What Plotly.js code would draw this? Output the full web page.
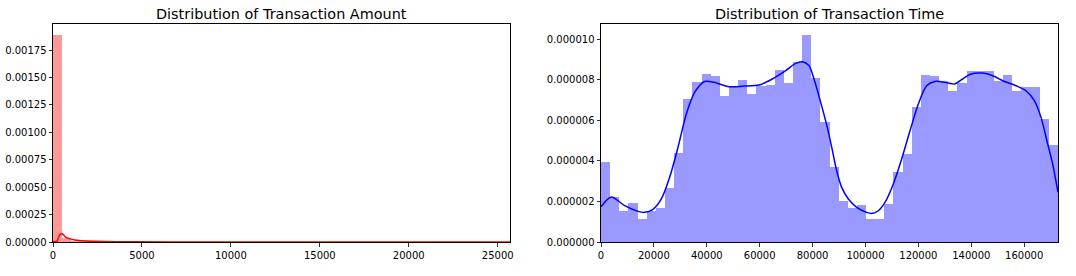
<!DOCTYPE html>
<html>
<head>
<meta charset="utf-8">
<script src="https://cdn.plot.ly/plotly-3.0.1.min.js"></script>
<style>html,body{margin:0;padding:0;background:#fff;}#chart{width:1076px;height:276px;}</style>
</head>
<body>
<div id="chart"></div>
<script>
// ---- data ----
const amountMax = 25691.16;
const timeMax = 172792;
const nBins = 50;

const amountDensity = [
  0.001887, 0.000040, 0.000012, 0.000005, 0.000003, 0.0000018, 0.0000012, 0.0000008, 0.0000005, 0.0000004,
  0.0000003, 0.0000002, 0.0000002, 0.0000001, 0.0000001, 0.0000001, 0, 0, 0, 0,
  0, 0, 0, 0, 0, 0, 0, 0, 0, 0,
  0, 0, 0, 0, 0, 0, 0, 0, 0, 0,
  0, 0, 0, 0, 0, 0, 0, 0, 0, 0.00000005
];
const amountKdeX = [0, 120, 220, 330, 420, 480, 560, 640, 750, 940, 1220, 1590, 2340, 3500, 5000, 8000, 12000, 18000, 25691];
const amountKdeY = [0.000004, 0.000004, 0.000006, 0.000050, 0.000072, 0.000078, 0.000070, 0.000056, 0.000039, 0.000030, 0.000018, 0.000012, 0.000006, 0.000003, 0.0000015, 0.0000006, 0.0000003, 0.0000001, 0.0000001];

const timeDensity = [
  3.96e-6, 2.23e-6, 1.53e-6, 1.92e-6, 1.15e-6, 1.53e-6, 1.69e-6, 2.68e-6, 4.40e-6, 7.04e-6,
  7.88e-6, 8.28e-6, 8.18e-6, 7.18e-6, 7.65e-6, 7.98e-6, 7.29e-6, 7.70e-6, 7.73e-6, 8.47e-6,
  7.83e-6, 8.85e-6, 10.2e-6, 8.10e-6, 5.91e-6, 3.71e-6, 2.04e-6, 1.69e-6, 1.81e-6, 1.15e-6,
  1.15e-6, 1.87e-6, 3.45e-6, 4.35e-6, 6.65e-6, 8.23e-6, 8.18e-6, 7.91e-6, 7.45e-6, 7.85e-6,
  8.42e-6, 8.42e-6, 8.42e-6, 7.95e-6, 8.23e-6, 7.45e-6, 7.64e-6, 7.64e-6, 6.06e-6, 4.78e-6
];
const timeKdeX = [0, 3900, 8950, 13990, 16510, 19660, 22810, 25960, 29110, 32260, 35400, 39190, 42730, 48400, 54070, 59740, 64780, 69830, 73610, 76130, 78650, 80540, 83060, 85570, 87340, 89110, 91000, 93520, 96670, 100450, 102340, 104860, 107380, 110530, 113680, 116830, 119980, 123130, 126280, 130700, 133590, 136740, 139890, 144310, 148100, 152510, 156920, 160700, 163850, 166370, 168890, 170780, 172792];
const timeKdeY = [1.74e-6, 2.22e-6, 1.79e-6, 1.51e-6, 1.46e-6, 1.61e-6, 2.12e-6, 3.19e-6, 4.66e-6, 6.31e-6, 7.37e-6, 7.91e-6, 7.87e-6, 7.65e-6, 7.68e-6, 7.73e-6, 8.03e-6, 8.44e-6, 8.80e-6, 8.88e-6, 8.69e-6, 8.03e-6, 6.88e-6, 5.65e-6, 4.60e-6, 3.51e-6, 2.69e-6, 2.12e-6, 1.71e-6, 1.46e-6, 1.41e-6, 1.54e-6, 1.95e-6, 2.86e-6, 4.09e-6, 5.48e-6, 6.80e-6, 7.70e-6, 7.91e-6, 7.85e-6, 7.78e-6, 8.03e-6, 8.28e-6, 8.32e-6, 8.19e-6, 7.91e-6, 7.70e-6, 7.45e-6, 6.96e-6, 6.14e-6, 4.83e-6, 3.84e-6, 2.45e-6];

const amountTicks = [0, 5000, 10000, 15000, 20000, 25000];
const timeTicks = [0, 20000, 40000, 60000, 80000, 100000, 120000, 140000, 160000];
const amountYTicks = [0, 0.00025, 0.0005, 0.00075, 0.001, 0.00125, 0.0015, 0.00175];
const timeYTicks = [0, 0.000002, 0.000004, 0.000006, 0.000008, 0.00001];

// ---- build ----
function centers(max, n) {
  const w = max / n; const c = [];
  for (let i = 0; i < n; i++) c.push((i + 0.5) * w);
  return c;
}
const aW = amountMax / nBins, tW = timeMax / nBins;

const traces = [
  {type: 'bar', x: centers(amountMax, nBins), y: amountDensity, width: aW,
   marker: {color: 'rgba(255,0,0,0.4)', line: {width: 0}}, xaxis: 'x', yaxis: 'y', hoverinfo: 'skip'},
  {type: 'scatter', mode: 'lines', x: amountKdeX, y: amountKdeY, line: {color: '#ff0000', width: 1.5, shape: 'spline', smoothing: 0.6},
   xaxis: 'x', yaxis: 'y', hoverinfo: 'skip'},
  {type: 'bar', x: centers(timeMax, nBins), y: timeDensity, width: tW,
   marker: {color: 'rgba(0,0,255,0.4)', line: {width: 0}}, xaxis: 'x2', yaxis: 'y2', hoverinfo: 'skip'},
  {type: 'scatter', mode: 'lines', x: timeKdeX, y: timeKdeY, line: {color: '#0000ff', width: 1.5, shape: 'spline', smoothing: 0.8},
   xaxis: 'x2', yaxis: 'y2', hoverinfo: 'skip'}
];

const font = {family: 'DejaVu Sans, sans-serif', size: 10, color: '#000'};
const axBase = {showgrid: false, zeroline: false, showline: true, mirror: true, linecolor: '#000', linewidth: 1,
  ticks: 'outside', ticklen: 3.5, tickwidth: 0.8, tickcolor: '#000', tickfont: font, fixedrange: true};

const layout = {
  width: 1076, height: 276,
  margin: {l: 0, r: 0, t: 0, b: 0},
  paper_bgcolor: '#fff', plot_bgcolor: '#fff',
  showlegend: false, bargap: 0, barmode: 'overlay',
  font: font,
  xaxis: Object.assign({}, axBase, {domain: [53/1076, 510/1076], range: [0, amountMax], tickvals: amountTicks, ticktext: amountTicks.map(String), anchor: 'y'}),
  yaxis: Object.assign({}, axBase, {domain: [1-242/276, 1-24/276], range: [0, 0.001987], tickvals: amountYTicks, ticktext: amountYTicks.map(v => v.toFixed(5)), anchor: 'x'}),
  xaxis2: Object.assign({}, axBase, {domain: [601/1076, 1058/1076], range: [0, timeMax], tickvals: timeTicks, ticktext: timeTicks.map(String), anchor: 'y2'}),
  yaxis2: Object.assign({}, axBase, {domain: [1-242/276, 1-24/276], range: [0, 1.074e-5], tickvals: timeYTicks, ticktext: timeYTicks.map(v => v.toFixed(6)), anchor: 'x2'}),
  annotations: [
    {text: 'Distribution of Transaction Amount', xref: 'paper', yref: 'paper', x: (53+510)/2/1076, y: 1-14/276,
     xanchor: 'center', yanchor: 'middle', showarrow: false, font: {family: 'DejaVu Sans, sans-serif', size: 14.4, color: '#000'}},
    {text: 'Distribution of Transaction Time', xref: 'paper', yref: 'paper', x: (601+1058)/2/1076, y: 1-14/276,
     xanchor: 'center', yanchor: 'middle', showarrow: false, font: {family: 'DejaVu Sans, sans-serif', size: 14.4, color: '#000'}}
  ]
};

Plotly.newPlot('chart', traces, layout, {staticPlot: true, displayModeBar: false});
</script>
</body>
</html>
